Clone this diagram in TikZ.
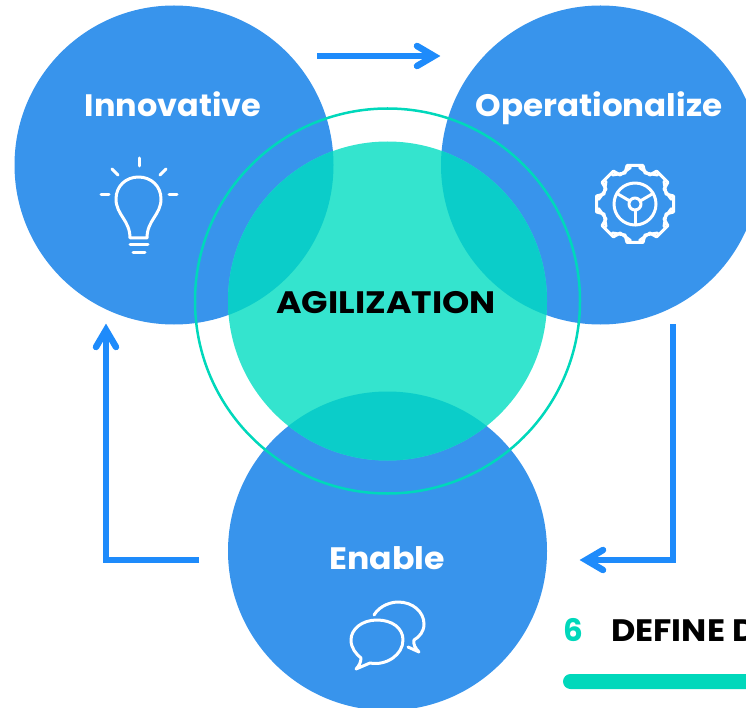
\documentclass[tikz,border=0pt]{standalone}
\usepackage{graphicx}
\usepackage{fontspec}
\setmainfont{Poppins}
\definecolor{blobblue}{HTML}{3894EC}
\definecolor{blobgreen}{HTML}{34E4CE}
\definecolor{overlapc}{HTML}{0BCDC9}
\definecolor{ringc}{HTML}{00D8BB}
\definecolor{arrowc}{HTML}{1E8BFB}
\tikzset{
  blob/.style={circle,inner sep=0pt,minimum size=319pt,fill=blobblue},
  lab/.style={font=\fontsize{31}{31}\selectfont\bfseries,text=white,inner sep=0pt,anchor=base},
  flow/.style={draw=arrowc,line width=5.5pt},
  icon/.style={draw=white,line width=3pt,line cap=round,line join=round},
  head/.pic={\draw[arrowc,line width=6.5pt,line cap=round,line join=miter,miter limit=10] (-17,-10) -- (0,0) -- (-17,10);},
}
\begin{document}
\begin{tikzpicture}[x=1pt,y=-1pt]
\useasboundingbox (0,0) rectangle (746,708);
\begin{scope}
\clip (0,0) rectangle (746,708);
\node[blob] (inn) at (174,165) {};
\node[blob] (ope) at (600.5,165) {};
\node[blob] (ena) at (387.5,551) {};
\node[blob,fill=blobgreen] (agi) at (387.5,301) {};
% overlaps
\begin{scope}\clip (387.5,301) circle (159.5);
\fill[overlapc] (174,165) circle (159.5);
\fill[overlapc] (600.5,165) circle (159.5);
\fill[overlapc] (387.5,551) circle (159.5);
\end{scope}
\node[circle,inner sep=0pt,minimum size=385pt,draw=ringc,line width=2.5pt] (ring) at (387.5,301) {};
% arrows
\coordinate (a1s) at (317,56); \coordinate (a1e) at (434,56);
\coordinate (a2s) at (673,324); \coordinate (a2m) at (673,560); \coordinate (a2e) at (586,560);
\coordinate (a3s) at (199,560); \coordinate (a3m) at (106,560); \coordinate (a3e) at (106,330);
\draw[flow] (a1s) -- (a1e);
\draw[flow] (a2s) -- (a2m) -- (a2e);
\draw[flow] (a3s) -- (a3m) -- (a3e);
\pic at (a1e) {head};
\pic[rotate=180] at (a2e) {head};
\pic[rotate=90] at (a3e) {head};
% texts
\node[lab] (t1) at (173,117) {\scalebox{1.03}[1]{Innovative}};
\node[lab] (t2) at (599,117) {\scalebox{1.05}[1]{Operationalize}};
\node[lab] (t3) at (387,569) {\scalebox{1.07}[1]{Enable}};
\node[lab,text=black] (t4) at (386,313) {\scalebox{1.12}[1]{AGILIZATION}};
\node[lab,text=ringc,anchor=base west] (six) at (563,641) {6};
\node[lab,text=black,anchor=base west] (def) at (611,641) {\scalebox{1.08}[1]{DEFINE D}};
\fill[ringc,rounded corners=7.5pt] (563,674) rectangle (780,689);
% bulb
\begin{scope}[shift={(80,140)},icon]
\draw (59,18) -- (59,26);
\draw (32,29) -- (38,35); \draw (86,29) -- (80,35);
\draw (21,55) -- (29,55); \draw (89,55) -- (97,55);
\draw (50,98) -- (67,98)
      .. controls (67,80) and (81,75) .. (81,59)
      .. controls (81,46) and (71,37) .. (58.5,37)
      .. controls (46,37) and (36,46) .. (36,59)
      .. controls (36,75) and (50,80) .. (50,98);
\draw (50,105) -- (68,105);
\draw (53,113) -- (65,113);
\end{scope}
% gear
\begin{scope}[shift={(635,204)},icon]
\foreach \a in {0,45,...,315}{
  \draw[rotate=\a] (-22.5,-29) -- (-10,-31) -- (-8,-38.5) -- (8,-38.5) -- (10,-31) -- (22.5,-29);
}
\draw (0,0) circle (21);
\draw (0,0) circle (6);
\draw (0,6) -- (0,21);
\draw (-5.2,-3) -- (-18,-10.5);
\draw (5.2,-3) -- (18,-10.5);
\end{scope}
% bubbles
\begin{scope}[shift={(330,590)},icon]
\draw (44,25) .. controls (50,15) and (62,12) .. (68,12)
  .. controls (83,12) and (94,22) .. (94,34)
  .. controls (94,42) and (89,47) .. (84,50)
  .. controls (83,54) and (85,58) .. (89,62)
  -- (78,57);
\draw (47,30) .. controls (32,30) and (21,39) .. (21,50)
  .. controls (21,58) and (26,64) .. (31,68)
  .. controls (31,72) and (29,76) .. (26,79)
  -- (40,73)
  .. controls (56,76) and (73,65) .. (73,50)
  .. controls (73,38) and (62,30) .. (47,30) -- cycle;
\end{scope}
\end{scope}
\end{tikzpicture}
\end{document}
